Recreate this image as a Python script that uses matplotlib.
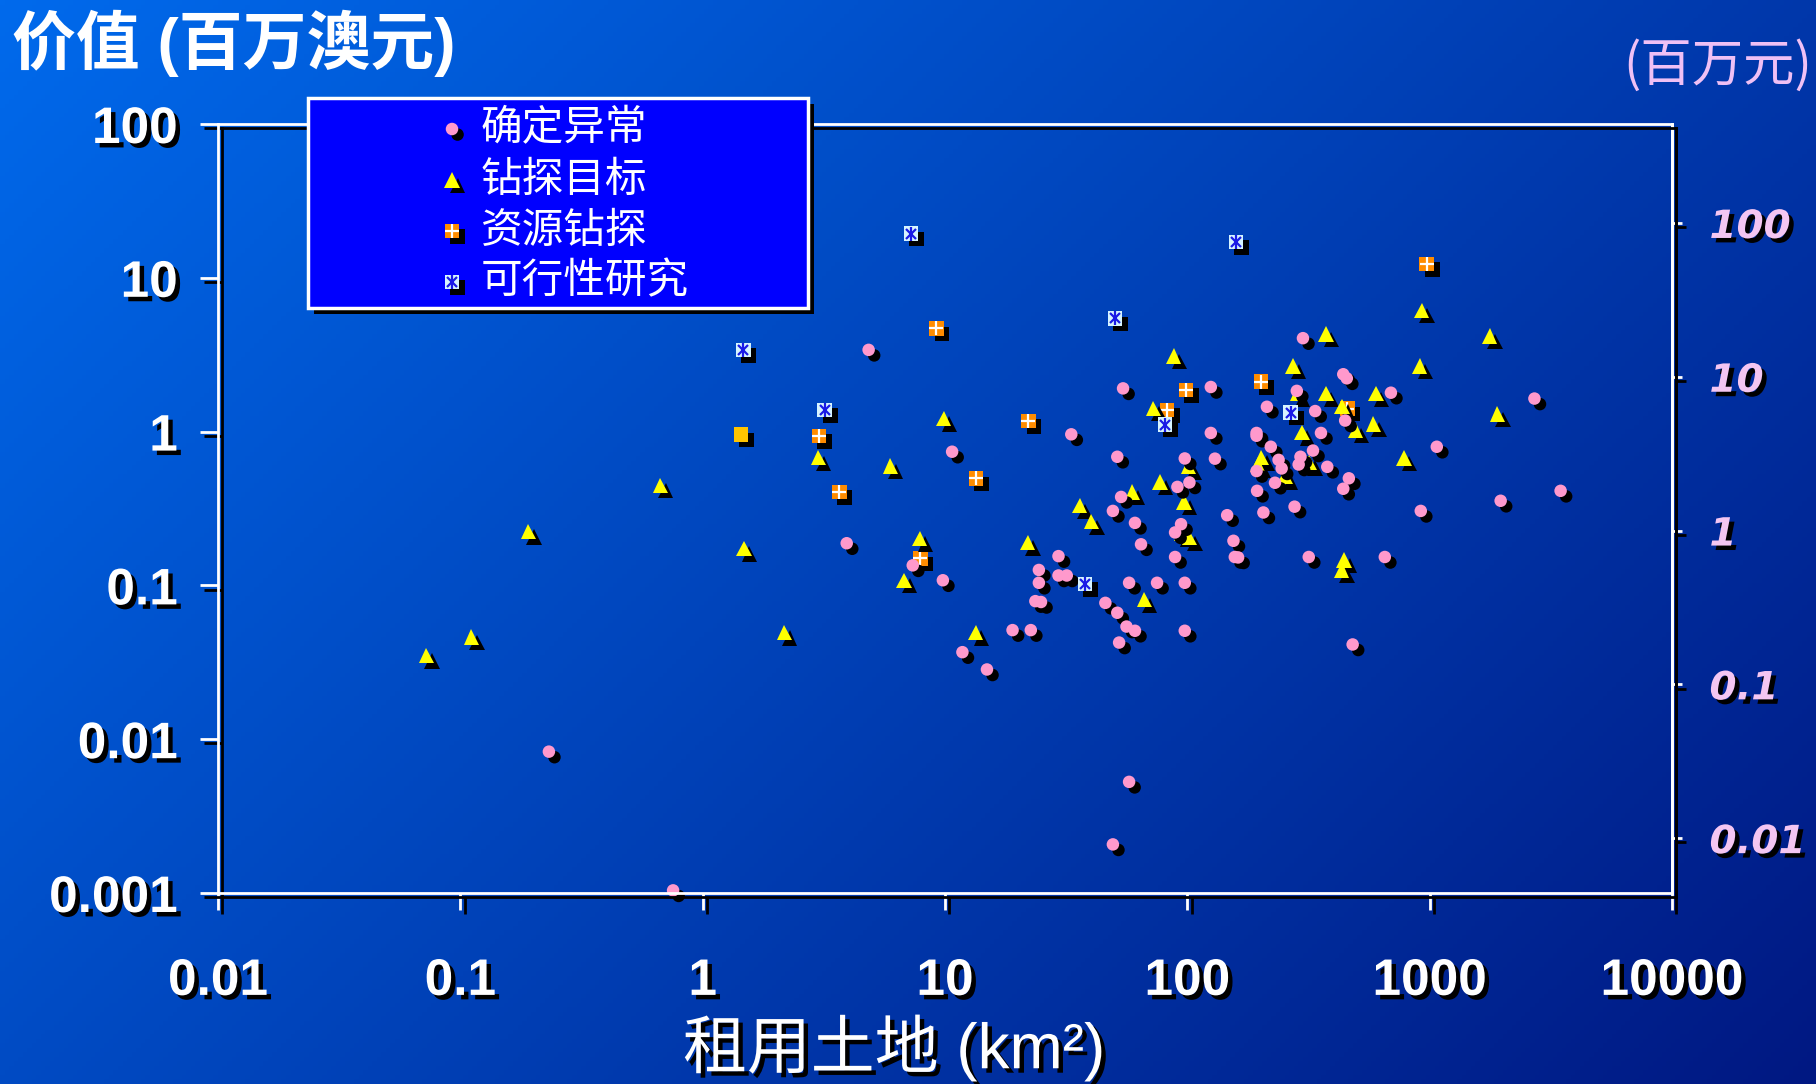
import numpy as np
import matplotlib.pyplot as plt
import matplotlib.patheffects as pe
from matplotlib.patches import Rectangle
from matplotlib.ticker import NullLocator

plt.rcParams['font.family'] = ['Noto Sans CJK SC', 'DejaVu Sans']

# ----------- data: x = 租用土地 (km2), y = 价值 (百万澳元) -----------
anomaly_x = [4.84, 0.232, 0.755, 3.93, 7.36, 9.8, 10.7, 11.8, 14.9, 19.0, 22.6, 24.4, 24.4, 23.6, 24.9,
             29.4, 29.4, 31.8, 33.2, 45.9, 49.3, 49.3, 51.4, 51.4, 52.3, 54.3, 53.3, 56.1, 57.5, 57.5,
             60.8, 60.8, 64.4, 75.0, 91.0, 89.0, 89.0, 97.6, 102, 97.6, 97.6, 94.2, 125, 125, 130,
             146, 155, 157, 162, 193, 193, 193, 194, 206, 213, 221, 230, 238, 245, 277, 283, 300,
             293, 288, 317, 330, 337, 356, 378, 440, 455, 440, 464, 448, 481, 653, 692, 919, 1070,
             1963, 2706, 3470]
anomaly_y = [3.40, 0.0083, 0.00104, 0.188, 0.135, 0.108, 0.74, 0.0368, 0.0284, 0.0512, 0.0512, 0.126,
             0.104, 0.079, 0.078, 0.155, 0.116, 0.116, 0.96, 0.077, 0.00207, 0.305, 0.686, 0.0664,
             0.0425, 1.91, 0.376, 0.054, 0.104, 0.00528, 0.255, 0.0507, 0.185, 0.104, 0.437, 0.221,
             0.153, 0.669, 0.467, 0.104, 0.0507, 0.250, 1.95, 0.98, 0.667, 0.286, 0.195, 0.153,
             0.152, 0.98, 0.94, 0.554, 0.412, 0.298, 1.45, 0.797, 0.465, 0.655, 0.576, 0.325, 1.84,
             4.05, 0.686, 0.611, 0.153, 0.753, 1.36, 0.98, 0.590, 2.36, 2.22, 0.425, 0.497, 1.18,
             0.0413, 0.153, 1.79, 0.305, 0.797, 0.355, 1.64, 0.412]

target_x = [0.0724, 0.111, 0.191, 0.668, 1.48, 2.17, 3.0, 5.94, 6.77, 7.86, 9.87, 13.4, 21.9, 35.9,
            40.2, 59.2, 66.4, 72.5, 77.1, 87.9, 95.0, 102, 96.9, 101, 195, 202, 253, 273, 284, 297,
            319, 373, 373, 435, 443, 433, 495, 586, 600, 783, 910, 926, 1766, 1903]
target_y = [0.0350, 0.0461, 0.224, 0.448, 0.174, 0.0494, 0.676, 0.597, 0.108, 0.202, 1.22, 0.0494,
            0.190, 0.329, 0.259, 0.404, 0.0808, 1.42, 0.471, 3.10, 0.218, 0.204, 0.349, 0.590,
            0.611, 0.678, 0.508, 2.67, 1.76, 0.989, 0.631, 4.31, 1.76, 1.46, 0.146, 0.126, 1.02,
            1.12, 1.76, 0.673, 2.67, 6.16, 4.19, 1.30]

drill_x = [9.22, 22.1, 3.02, 3.66, 13.4, 7.91, 98.7, 82.3, 201, 458, 973]
drill_y = [4.69, 1.17, 0.935, 0.404, 0.497, 0.150, 1.86, 1.38, 2.11, 1.41, 12.3]

other_x = [1.44]
other_y = [0.96]

feas_x = [7.25, 159, 50.2, 1.47, 3.19, 80.8, 267, 37.8]
feas_y = [19.4, 17.1, 5.44, 3.39, 1.38, 1.11, 1.33, 0.102]

x_ticks = [0.01, 0.1, 1, 10, 100, 1000, 10000]
x_labels = ['0.01', '0.1', '1', '10', '100', '1000', '10000']
y_ticks = [0.001, 0.01, 0.1, 1, 10, 100]
y_labels = ['0.001', '0.01', '0.1', '1', '10', '100']
cny_ticks = [0.01, 0.1, 1, 10, 100]
cny_labels = ['0.01', '0.1', '1', '10', '100']
AUD_TO_CNY = 4.4

legend_labels = ['确定异常', '钻探目标', '资源钻探', '可行性研究']

# ----------- styles -----------
W, H = 1816, 1084
PINK = '#FF99CC'
YELLOW = '#FFFF00'
ORANGE = '#FF8C00'
XBLUE = '#1A1AE6'
CNY_COLOR = '#F4C6F2'

MSH = [pe.SimplePatchShadow(offset=(4.0, -4.0), shadow_rgbFace='black', alpha=1.0), pe.Normal()]
TSH = [pe.SimplePatchShadow(offset=(3.2, -3.2), shadow_rgbFace='black', alpha=1.0), pe.Normal()]
LSH = [pe.SimpleLineShadow(offset=(3, -3), shadow_color='black', alpha=1.0), pe.Normal()]


def draw_drill(a, xs, ys):
    a.plot(xs, ys, ls='none', marker='s', ms=10.5, mfc=ORANGE, mec='none', path_effects=MSH, clip_on=False)
    a.plot(xs, ys, ls='none', marker='+', ms=10.5, mec='white', mew=1.6, clip_on=False)


def draw_target(a, xs, ys):
    a.plot(xs, ys, ls='none', marker='^', ms=11, mfc=YELLOW, mec='none', path_effects=MSH, clip_on=False)


def draw_anomaly(a, xs, ys):
    a.plot(xs, ys, ls='none', marker='o', ms=9, mfc=PINK, mec='none', path_effects=MSH, clip_on=False)


def draw_feas(a, xs, ys):
    a.plot(xs, ys, ls='none', marker='s', ms=10.5, mfc='#D6F4FF', mec='none', path_effects=MSH, clip_on=False)
    a.plot(xs, ys, ls='none', marker='x', ms=7.5, mec=XBLUE, mew=1.6, clip_on=False)
    a.plot(xs, ys, ls='none', marker='|', ms=10.5, mec=XBLUE, mew=1.6, clip_on=False)


fig = plt.figure(figsize=(W / 100, H / 100), dpi=100)

# ----------- gradient background -----------
bg = fig.add_axes([0, 0, 1, 1], zorder=-10)
gx, gy = np.meshgrid(np.linspace(0, 1, 400), np.linspace(0, 1, 240))
t = np.clip(0.62 * gx + 0.38 * gy, 0, 1)[..., None]
c0 = np.array([0, 106, 236]) / 255
c1 = np.array([0, 24, 130]) / 255
bg.imshow(c0 + (c1 - c0) * t, aspect='auto', extent=[0, 1, 0, 1])
bg.axis('off')

# ----------- main axes -----------
ax = fig.add_axes([218 / W, 1 - 893 / H, (1672 - 218) / W, (893 - 124) / H])
ax.set_facecolor('none')
ax.set_xscale('log')
ax.set_yscale('log')
ax.set_xlim(0.01, 10000)
ax.set_ylim(0.001, 100)

draw_drill(ax, drill_x, drill_y)
ax.plot(other_x, other_y, ls='none', marker='s', ms=10.5, mfc='#FFC400', mec='none', path_effects=MSH)
draw_target(ax, target_x, target_y)
draw_anomaly(ax, anomaly_x, anomaly_y)
draw_feas(ax, feas_x, feas_y)

for s in ax.spines.values():
    s.set_color('white')
    s.set_linewidth(2)
    s.set_path_effects(LSH)

lab_kw = dict(fontfamily='Liberation Sans', fontweight='bold', fontsize=37, color='white', path_effects=TSH)
ax.set_xticks(x_ticks)
ax.set_xticklabels(x_labels, **lab_kw)
ax.set_yticks(y_ticks)
ax.set_yticklabels(y_labels, **lab_kw)
ax.xaxis.set_minor_locator(NullLocator())
ax.yaxis.set_minor_locator(NullLocator())
ax.tick_params(axis='x', direction='out', length=12, width=2, color='white', pad=34)
ax.tick_params(axis='y', direction='out', length=13, width=2, color='white', pad=16)
for tk in ax.xaxis.get_major_ticks() + ax.yaxis.get_major_ticks():
    tk.tick1line.set_path_effects(LSH)

# ----------- right axis in 百万元 -----------
sec = ax.secondary_yaxis('right', functions=(lambda v: v * AUD_TO_CNY, lambda v: v / AUD_TO_CNY))
sec.set_yticks(cny_ticks)
sec.set_yticklabels(cny_labels, fontfamily='DejaVu Sans', fontweight='bold', fontstyle='italic',
                    fontsize=28, color=CNY_COLOR, path_effects=TSH)
sec.yaxis.set_minor_locator(NullLocator())
sec.tick_params(axis='y', direction='out', length=7, width=2, color='white', pad=20)
for name, s in sec.spines.items():
    s.set_color('white')
    s.set_linewidth(2)
    s.set_path_effects(LSH)
for tk in sec.yaxis.get_major_ticks():
    tk.tick1line.set_path_effects(LSH)
    tk.tick2line.set_path_effects(LSH)

# ----------- titles -----------
fig.text(12 / W, 1 - 43 / H, '价值 (百万澳元)', ha='left', va='center', fontsize=46, color='white',
         family=['Liberation Sans', 'Noto Sans CJK SC'], fontweight='bold')
fig.text(1812 / W, 1 - 66 / H, '(百万元)', ha='right', va='center', fontsize=37, color='#EFC0F5')
fig.text(894 / W, 1 - 1048 / H, '租用土地 (km²)', ha='center', va='center', fontsize=46, color='white',
         family=['Liberation Sans', 'Noto Sans CJK SC'], path_effects=TSH)

# ----------- legend box -----------
lax = fig.add_axes([308 / W, 1 - 308 / H, 500 / W, 210 / H], zorder=5)
lax.set_xlim(308, 808)
lax.set_ylim(308, 98)
lax.axis('off')
lax.add_patch(Rectangle((308, 98), 500, 210, facecolor='#0000FF', edgecolor='white', lw=2.5, clip_on=False,
                        path_effects=[pe.SimplePatchShadow(offset=(4, -4), shadow_rgbFace='black', alpha=1.0),
                                      pe.Normal()]))
rows = [129, 180, 231, 282]
draw_anomaly(lax, [452], [rows[0]])
draw_target(lax, [452], [rows[1]])
draw_drill(lax, [452], [rows[2]])
draw_feas(lax, [452], [rows[3]])
for r, lbl in zip(rows, legend_labels):
    lax.text(481, r, lbl, ha='left', va='center', fontsize=30, color='white')

fig.savefig('out.png', dpi=100)
